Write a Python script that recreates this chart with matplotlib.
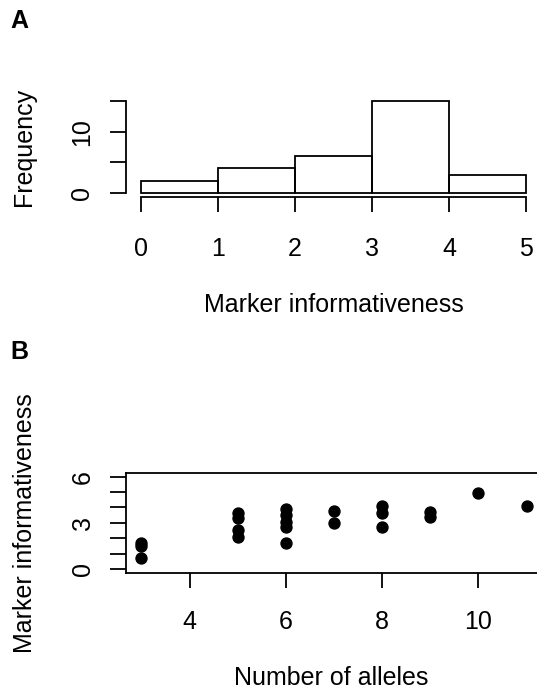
import matplotlib
matplotlib.use("Agg")
import matplotlib.pyplot as plt

# ---- data ----
bin_edges = [0, 1, 2, 3, 4, 5]
hist_counts = [2, 4, 6, 15, 3]
hist_xticks = [0, 1, 2, 3, 4, 5]
hist_yticks = [0, 5, 10, 15]
hist_ytick_labels = ["0", "", "10", ""]

alleles = [3, 3, 3, 5, 5, 5, 5, 6, 6, 6, 6, 6, 7, 7, 8, 8, 8, 9, 9, 10, 11]
informativeness = [1.70, 1.50, 0.73, 3.62, 3.29, 2.53, 2.06, 3.90, 3.51, 3.07,
                   2.71, 1.67, 3.77, 3.01, 4.09, 3.66, 2.75, 3.68, 3.36, 4.92, 4.11]
sc_xticks = [4, 6, 8, 10]
sc_yticks = [0, 1, 2, 3, 4, 5, 6]
sc_ytick_labels = ["0", "", "", "3", "", "", "6"]

W, H = 537, 691
plt.rcParams['font.family'] = ['Liberation Sans', 'DejaVu Sans']
fig = plt.figure(figsize=(W / 100, H / 100), dpi=100)


def fx(px):
    return px / W


def fy(py):
    return 1 - py / H


LW = 1.3
FS = 18

# ---- panel A: histogram ----
ax1 = fig.add_axes([fx(125.6), fy(196.7), (541.4 - 125.6) / W, (196.7 - 97.3) / H])
ax1.bar(bin_edges[:-1], hist_counts, width=1, align='edge', fill=False,
        edgecolor='black', linewidth=LW)
ax1.set_xlim(-0.2, 5.2)
ax1.set_ylim(-0.6, 15.6)
for s in ['top', 'right']:
    ax1.spines[s].set_visible(False)
ax1.spines['bottom'].set_bounds(0, 5)
ax1.spines['left'].set_bounds(0, 15)
for s in ['bottom', 'left']:
    ax1.spines[s].set_linewidth(LW)
ax1.set_xticks(hist_xticks)
ax1.set_yticks(hist_yticks)
ax1.set_yticklabels(hist_ytick_labels)
ax1.tick_params(axis='x', direction='out', length=10.8, width=LW, labelsize=FS, pad=18.5)
ax1.tick_params(axis='y', direction='out', length=11.5, width=LW, labelsize=FS, pad=11,
                labelrotation=90)
for t in ax1.get_yticklabels():
    t.set_va('center')
ax1.set_xlabel('Marker informativeness', fontsize=FS)
ax1.xaxis.set_label_coords(fx(334), fy(312), transform=fig.transFigure)
ax1.xaxis.label.set_va('baseline')
ax1.set_ylabel('Frequency', fontsize=FS)
ax1.yaxis.set_label_coords(fx(31), fy(147), transform=fig.transFigure)
ax1.yaxis.label.set_va('baseline')

# ---- panel B: scatter ----
ax2 = fig.add_axes([fx(126), fy(572.7), (542 - 126) / W, (572.7 - 473) / H])
ax2.plot(alleles, informativeness, 'o', color='black', markersize=7.9, linestyle='none')
ax2.set_xlim(2.68, 11.32)
ax2.set_ylim(-0.24, 6.24)
for s in ax2.spines.values():
    s.set_linewidth(LW)
ax2.set_xticks(sc_xticks)
ax2.set_yticks(sc_yticks)
ax2.set_yticklabels(sc_ytick_labels)
ax2.tick_params(axis='x', direction='out', length=10.8, width=LW, labelsize=FS, pad=15.8)
ax2.tick_params(axis='y', direction='out', length=11.5, width=LW, labelsize=FS, pad=11,
                labelrotation=90)
for t in ax2.get_yticklabels():
    t.set_va('center')
ax2.set_xlabel('Number of alleles', fontsize=FS)
ax2.xaxis.set_label_coords(fx(331.5), fy(685), transform=fig.transFigure)
ax2.xaxis.label.set_va('baseline')
ax2.set_ylabel('Marker informativeness', fontsize=FS)
ax2.yaxis.set_label_coords(fx(32), fy(523), transform=fig.transFigure)
ax2.yaxis.label.set_va('baseline')

# ---- panel letters ----
fig.text(fx(10), fy(28), 'A', fontsize=FS, fontweight='bold', ha='left', va='baseline')
fig.text(fx(10), fy(359), 'B', fontsize=FS, fontweight='bold', ha='left', va='baseline')

fig.savefig('out.png', dpi=100)
